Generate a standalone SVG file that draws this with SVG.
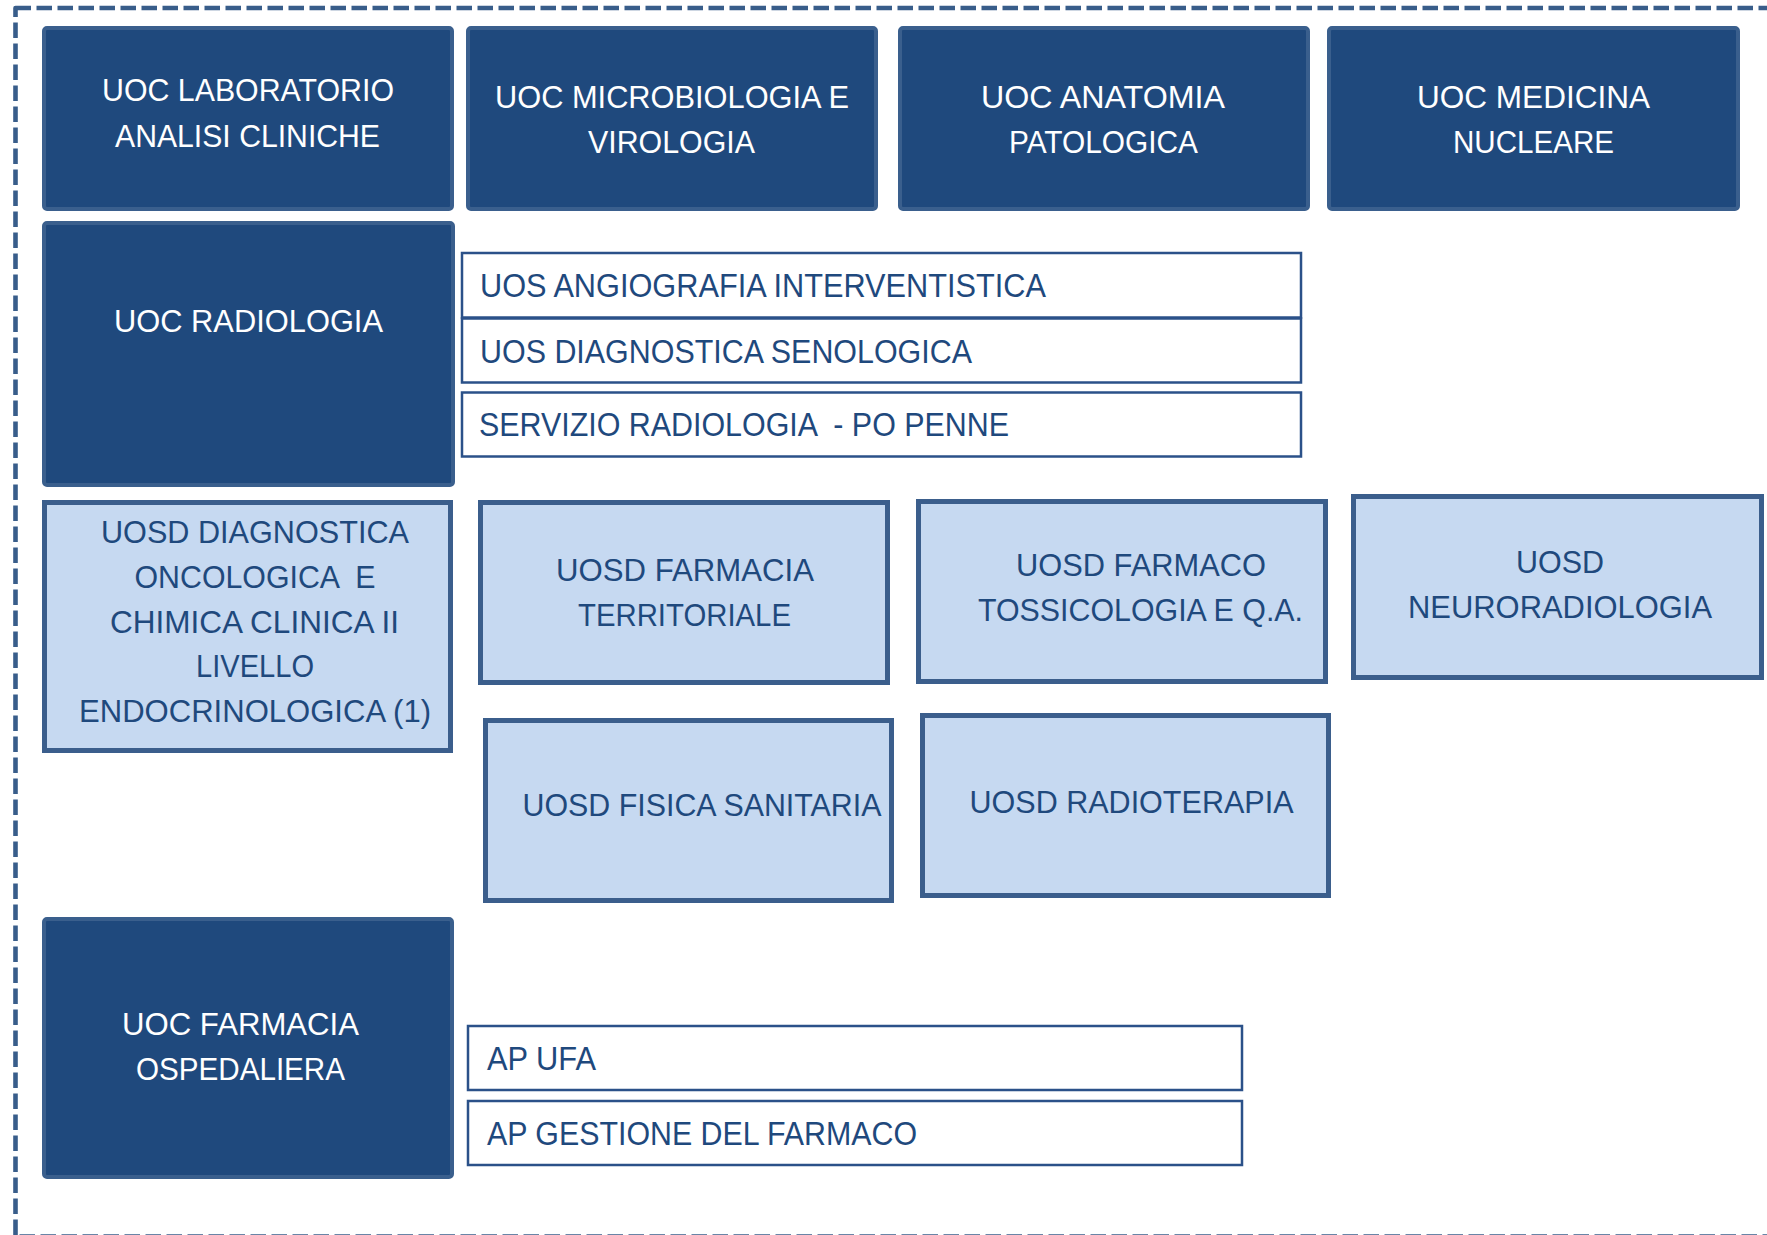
<svg xmlns="http://www.w3.org/2000/svg" width="1767" height="1235" viewBox="0 0 1767 1235">
<style>
.bg{fill:#ffffff}
.frame{fill:none;stroke:#385d8a;stroke-width:4.6;stroke-dasharray:15.5 5.5;stroke-linejoin:round}
.dk{fill:#1f497d;stroke:#3a5f8d;stroke-width:4}
.lt{fill:#c6d9f1;stroke:#3b5e8c;stroke-width:5}
.wb{fill:#ffffff;stroke:#2b5189;stroke-width:2.5}
.tw{fill:#ffffff;font-family:'Liberation Sans',Arial,sans-serif;font-size:32px}
.tb{fill:#1f497d;font-family:'Liberation Sans',Arial,sans-serif;font-size:32px}
.tu{fill:#1f497d;font-family:'Liberation Sans',Arial,sans-serif;font-size:33px}
</style>
<rect class="bg" x="0" y="0" width="1767" height="1235"/>
<rect id="frame" class="frame" x="15.5" y="8" width="1800" height="1228.5"/>

<g id="uoc-laboratorio">
<rect class="dk" x="44" y="28" width="408" height="181" rx="3"/>
<text class="tw" x="102" y="101" textLength="292" lengthAdjust="spacingAndGlyphs">UOC LABORATORIO</text>
<text class="tw" x="115" y="147" textLength="265" lengthAdjust="spacingAndGlyphs">ANALISI CLINICHE</text>
</g>
<g id="uoc-microbiologia">
<rect class="dk" x="468" y="28" width="408" height="181" rx="3"/>
<text class="tw" x="495" y="108" textLength="354" lengthAdjust="spacingAndGlyphs">UOC MICROBIOLOGIA E</text>
<text class="tw" x="588" y="153" textLength="167" lengthAdjust="spacingAndGlyphs">VIROLOGIA</text>
</g>
<g id="uoc-anatomia">
<rect class="dk" x="900" y="28" width="408" height="181" rx="3"/>
<text class="tw" x="981" y="108" textLength="244" lengthAdjust="spacingAndGlyphs">UOC ANATOMIA</text>
<text class="tw" x="1009" y="153" textLength="189" lengthAdjust="spacingAndGlyphs">PATOLOGICA</text>
</g>
<g id="uoc-medicina-nucleare">
<rect class="dk" x="1329" y="28" width="409" height="181" rx="3"/>
<text class="tw" x="1417" y="108" textLength="233" lengthAdjust="spacingAndGlyphs">UOC MEDICINA</text>
<text class="tw" x="1453" y="153" textLength="161" lengthAdjust="spacingAndGlyphs">NUCLEARE</text>
</g>

<g id="uoc-radiologia">
<rect class="dk" x="44" y="223" width="409" height="262" rx="3"/>
<text class="tw" x="114" y="332" textLength="269" lengthAdjust="spacingAndGlyphs">UOC RADIOLOGIA</text>
</g>
<g id="uos-angiografia">
<rect class="wb" x="462" y="253" width="839" height="64.5"/>
<text class="tu" x="480" y="297" textLength="566" lengthAdjust="spacingAndGlyphs">UOS ANGIOGRAFIA INTERVENTISTICA</text>
</g>
<g id="uos-senologica">
<rect class="wb" x="462" y="318.5" width="839" height="64"/>
<text class="tu" x="480" y="363" textLength="492" lengthAdjust="spacingAndGlyphs">UOS DIAGNOSTICA SENOLOGICA</text>
</g>
<g id="servizio-radiologia-penne">
<rect class="wb" x="462" y="392.5" width="839" height="64"/>
<text class="tu" x="479" y="436" textLength="530" lengthAdjust="spacingAndGlyphs" xml:space="preserve">SERVIZIO RADIOLOGIA  - PO PENNE</text>
</g>

<g id="uosd-diagnostica-oncologica">
<rect class="lt" x="44.5" y="502.5" width="406" height="248"/>
<text class="tb" x="101" y="543" textLength="308" lengthAdjust="spacingAndGlyphs">UOSD DIAGNOSTICA</text>
<text class="tb" x="134.5" y="588" textLength="241" lengthAdjust="spacingAndGlyphs" xml:space="preserve">ONCOLOGICA  E</text>
<text class="tb" x="110" y="633" textLength="289" lengthAdjust="spacingAndGlyphs">CHIMICA CLINICA II</text>
<text class="tb" x="196" y="677" textLength="118" lengthAdjust="spacingAndGlyphs">LIVELLO</text>
<text class="tb" x="79" y="722" textLength="352" lengthAdjust="spacingAndGlyphs">ENDOCRINOLOGICA (1)</text>
</g>
<g id="uosd-farmacia-territoriale">
<rect class="lt" x="480.5" y="502.5" width="407" height="180"/>
<text class="tb" x="556" y="581" textLength="258" lengthAdjust="spacingAndGlyphs">UOSD FARMACIA</text>
<text class="tb" x="578" y="626" textLength="213" lengthAdjust="spacingAndGlyphs">TERRITORIALE</text>
</g>
<g id="uosd-farmaco-tossicologia">
<rect class="lt" x="918.5" y="501.5" width="407" height="180"/>
<text class="tb" x="1016" y="576" textLength="250" lengthAdjust="spacingAndGlyphs">UOSD FARMACO</text>
<text class="tb" x="978" y="621" textLength="325" lengthAdjust="spacingAndGlyphs">TOSSICOLOGIA E Q.A.</text>
</g>
<g id="uosd-neuroradiologia">
<rect class="lt" x="1353.5" y="496.5" width="408" height="181"/>
<text class="tb" x="1516" y="573" textLength="88" lengthAdjust="spacingAndGlyphs">UOSD</text>
<text class="tb" x="1408" y="618" textLength="304" lengthAdjust="spacingAndGlyphs">NEURORADIOLOGIA</text>
</g>
<g id="uosd-fisica-sanitaria">
<rect class="lt" x="485.5" y="720.5" width="406" height="180"/>
<text class="tb" x="522.5" y="816" textLength="359" lengthAdjust="spacingAndGlyphs">UOSD FISICA SANITARIA</text>
</g>
<g id="uosd-radioterapia">
<rect class="lt" x="922.5" y="715.5" width="406" height="180"/>
<text class="tb" x="969.5" y="813" textLength="324" lengthAdjust="spacingAndGlyphs">UOSD RADIOTERAPIA</text>
</g>

<g id="uoc-farmacia-ospedaliera">
<rect class="dk" x="44" y="919" width="408" height="258" rx="3"/>
<text class="tw" x="122" y="1035" textLength="237" lengthAdjust="spacingAndGlyphs">UOC FARMACIA</text>
<text class="tw" x="136" y="1080" textLength="209" lengthAdjust="spacingAndGlyphs">OSPEDALIERA</text>
</g>
<g id="ap-ufa">
<rect class="wb" x="468" y="1026" width="774" height="64"/>
<text class="tu" x="487" y="1070" textLength="109" lengthAdjust="spacingAndGlyphs">AP UFA</text>
</g>
<g id="ap-gestione-farmaco">
<rect class="wb" x="468" y="1101" width="774" height="64"/>
<text class="tu" x="487" y="1145" textLength="430" lengthAdjust="spacingAndGlyphs">AP GESTIONE DEL FARMACO</text>
</g>
</svg>
